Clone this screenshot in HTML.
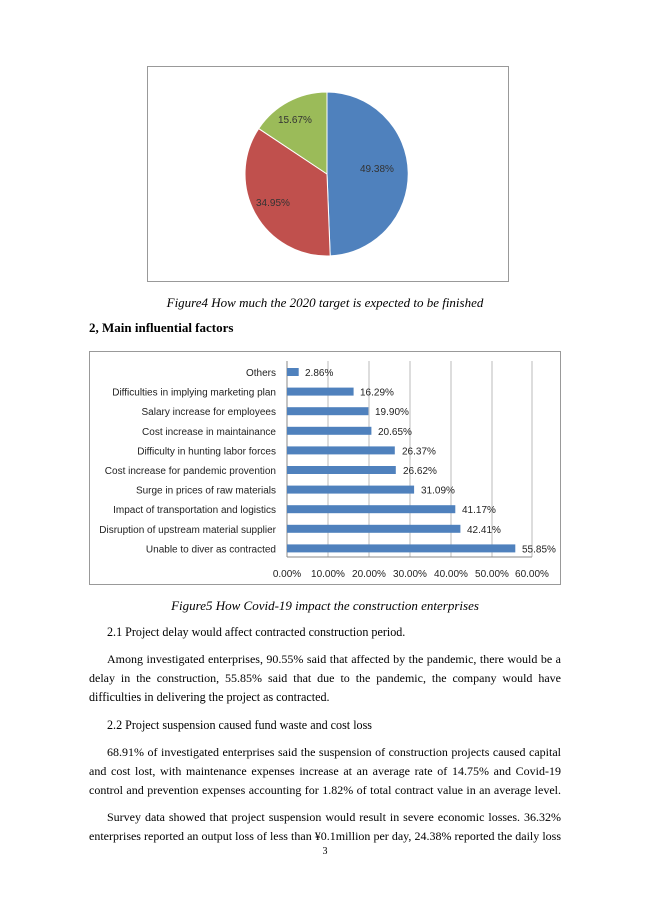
<!DOCTYPE html>
<html><head><meta charset="utf-8"><style>
body{margin:0;width:650px;height:919px;background:#fff;position:relative;font-family:"Liberation Serif",serif;color:#000;overflow:hidden}
.l{position:absolute;left:89px;width:472px;font-size:13px;line-height:16px;white-space:nowrap}
.j{text-align:justify;text-align-last:justify;white-space:normal;font-size:12px;height:16px;overflow:hidden}
.s{font-size:12.1px}
.c{text-align:center}
svg text{font-family:"Liberation Sans",sans-serif}
</style></head><body>
<svg width="650" height="600" style="position:absolute;left:0;top:0">
<rect x="147.5" y="66.5" width="361" height="215" fill="#fff" stroke="#999"/>
<path d="M327,174 L327,92 A82,82 0 0 1 330.2,255.9 Z" fill="#4f81bd" stroke="#fff"/>
<path d="M327,174 L330.2,255.9 A82,82 0 0 1 258.7,128.6 Z" fill="#c0504d" stroke="#fff"/>
<path d="M327,174 L258.7,128.6 A82,82 0 0 1 327,92 Z" fill="#9bbb59" stroke="#fff"/>
<text x="360" y="172" font-size="10" fill="#333">49.38%</text>
<text x="256" y="206" font-size="10" fill="#333">34.95%</text>
<text x="278" y="123" font-size="10" fill="#333">15.67%</text>
<rect x="89.5" y="351.5" width="471" height="233" fill="#fff" stroke="#999"/>
<g stroke="#bbb" stroke-width="1">
<line x1="328" y1="361" x2="328" y2="557"/><line x1="369" y1="361" x2="369" y2="557"/><line x1="410" y1="361" x2="410" y2="557"/><line x1="451" y1="361" x2="451" y2="557"/><line x1="492" y1="361" x2="492" y2="557"/><line x1="532" y1="361" x2="532" y2="557"/>
</g>
<line x1="287" y1="361" x2="287" y2="557" stroke="#888"/>
<line x1="287" y1="557" x2="532" y2="557" stroke="#888"/>
<g fill="#4f81bd">
<rect x="287" y="368" width="11.7" height="8"/>
<rect x="287" y="387.6" width="66.6" height="8"/>
<rect x="287" y="407.2" width="81.4" height="8"/>
<rect x="287" y="426.8" width="84.4" height="8"/>
<rect x="287" y="446.4" width="107.8" height="8"/>
<rect x="287" y="466" width="108.8" height="8"/>
<rect x="287" y="485.6" width="127.1" height="8"/>
<rect x="287" y="505.2" width="168.3" height="8"/>
<rect x="287" y="524.8" width="173.4" height="8"/>
<rect x="287" y="544.4" width="228.3" height="8"/>
</g>
<g font-size="10" fill="#222" text-anchor="end">
<text x="276" y="376">Others</text>
<text x="276" y="395.6">Difficulties in implying marketing plan</text>
<text x="276" y="415.2">Salary increase for employees</text>
<text x="276" y="434.8">Cost increase in maintainance</text>
<text x="276" y="454.4">Difficulty in hunting labor forces</text>
<text x="276" y="474">Cost increase for pandemic provention</text>
<text x="276" y="493.6">Surge in prices of raw materials</text>
<text x="276" y="513.2">Impact of transportation and logistics</text>
<text x="276" y="532.8">Disruption of upstream material supplier</text>
<text x="276" y="552.4">Unable to diver as contracted</text>
</g>
<g font-size="10" fill="#222">
<text x="305" y="376">2.86%</text>
<text x="360" y="395.6">16.29%</text>
<text x="375" y="415.2">19.90%</text>
<text x="378" y="434.8">20.65%</text>
<text x="402" y="454.4">26.37%</text>
<text x="403" y="474">26.62%</text>
<text x="421" y="493.6">31.09%</text>
<text x="462" y="513.2">41.17%</text>
<text x="467" y="532.8">42.41%</text>
<text x="522" y="552.4">55.85%</text>
</g>
<g font-size="10" fill="#222" text-anchor="middle">
<text x="287" y="577">0.00%</text><text x="328" y="577">10.00%</text><text x="369" y="577">20.00%</text><text x="410" y="577">30.00%</text><text x="451" y="577">40.00%</text><text x="492" y="577">50.00%</text><text x="532" y="577">60.00%</text>
</g>
</svg>
<div class="l c" style="top:295px;font-style:italic">Figure4 How much the 2020 target is expected to be finished</div>
<div class="l" style="top:320px;font-weight:bold">2, Main influential factors</div>
<div class="l c" style="top:598px;font-style:italic">Figure5 How Covid-19 impact the construction enterprises</div>
<div class="l s" style="top:624px;left:107px">2.1 Project delay would affect contracted construction period.</div>
<div class="l j" style="top:651px;padding-left:18px;width:454px">Among investigated enterprises, 90.55% said that affected by the pandemic, there would be a</div>
<div class="l j" style="top:670px">delay in the construction, 55.85% said that due to the pandemic, the company would have</div>
<div class="l s" style="top:689px">difficulties in delivering the project as contracted.</div>
<div class="l s" style="top:717px;left:107px">2.2 Project suspension caused fund waste and cost loss</div>
<div class="l j" style="top:744px;padding-left:18px;width:454px">68.91% of investigated enterprises said the suspension of construction projects caused capital</div>
<div class="l j" style="top:763px">and cost lost, with maintenance expenses increase at an average rate of 14.75% and Covid-19</div>
<div class="l j" style="top:782px">control and prevention expenses accounting for 1.82% of total contract value in an average level.</div>
<div class="l j" style="top:809px;padding-left:18px;width:454px">Survey data showed that project suspension would result in severe economic losses. 36.32% of</div>
<div class="l j" style="top:828px">enterprises reported an output loss of less than ¥0.1million per day, 24.38% reported the daily loss</div>
<div class="l c" style="top:844px;font-size:10px">3</div>
</body></html>
